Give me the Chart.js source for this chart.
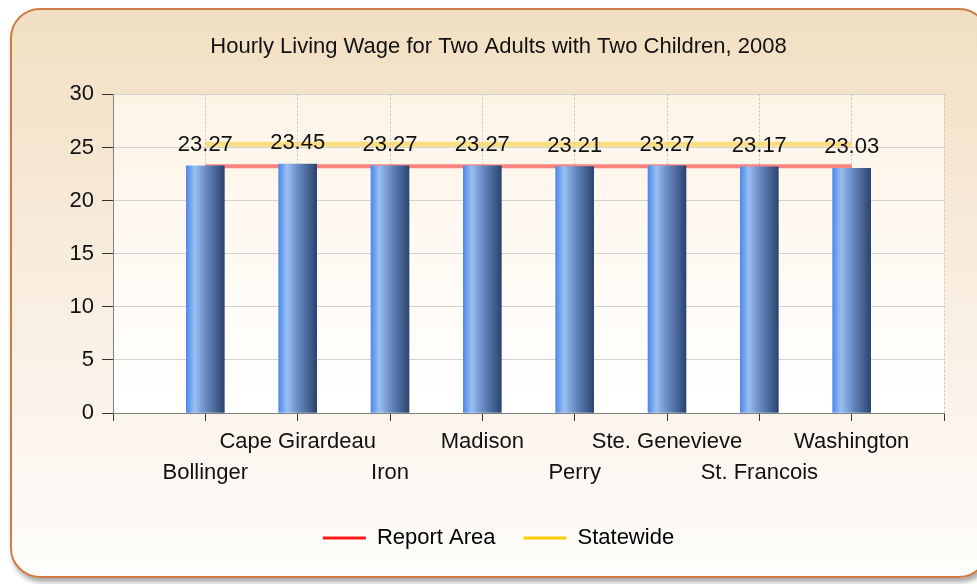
<!DOCTYPE html>
<html>
<head>
<meta charset="utf-8">
<script src="https://cdn.jsdelivr.net/npm/chart.js@4.4.1/dist/chart.umd.min.js"></script>
<style>
  html, body { margin: 0; padding: 0; background: #fff; overflow: hidden; }
  #panel {
    position: absolute; left: 10px; top: 8px; width: 975px; height: 566px;
    border: 2px solid #d07a45; border-radius: 30px;
    background: linear-gradient(#f2dfc2, #f9efe3 55%, #fefdfb);
    box-shadow: 2px 4px 5px rgba(0, 0, 0, 0.35);
  }
  #wrap { position: absolute; left: 0; top: 0; width: 977px; height: 584px; }
</style>
</head>
<body>
<div id="panel"></div>
<div id="wrap"><canvas id="wageChart"></canvas></div>
<script>
const counties = ['Bollinger', 'Cape Girardeau', 'Iron', 'Madison', 'Perry', 'Ste. Genevieve', 'St. Francois', 'Washington'];
const wages = [23.27, 23.45, 23.27, 23.27, 23.21, 23.27, 23.17, 23.03];
const reportArea = [23.24, 23.24, 23.24, 23.24, 23.24, 23.24, 23.24, 23.24];
const statewide = [25.3, 25.3, 25.3, 25.3, 25.3, 25.3, 25.3, 25.3];
const yTicks = [0, 5, 10, 15, 20, 25, 30];

const FONT = "'Liberation Sans', Arial, sans-serif";
const BAR_W = 38;

// place each county at x = 1..8 on a 0..9 axis
const toPoints = arr => arr.map((v, i) => ({ x: i + 1, y: v }));

function barGradient(c) {
  const chart = c.chart;
  if (c.type !== 'data' || !chart.chartArea) return '#5a8fe0';
  const cx = chart.scales.x.getPixelForValue(c.dataIndex + 1);
  const g = chart.ctx.createLinearGradient(cx - BAR_W / 2, 0, cx + BAR_W / 2, 0);
  g.addColorStop(0, '#4f89ea');
  g.addColorStop(0.22, '#98bff3');
  g.addColorStop(0.5, '#6a8dc4');
  g.addColorStop(1, '#2b4470');
  return g;
}

// cream plot background
const plotBg = {
  id: 'plotBg',
  beforeDraw(chart) {
    const { ctx, chartArea: a } = chart;
    const g = ctx.createLinearGradient(0, a.top, 0, a.bottom);
    g.addColorStop(0, '#fdf4e6');
    g.addColorStop(1, '#ffffff');
    ctx.save();
    ctx.fillStyle = g;
    ctx.fillRect(a.left, a.top, a.right - a.left, a.bottom - a.top);
    ctx.restore();
  }
};

// value labels above bars
const barLabels = {
  id: 'barLabels',
  afterDatasetsDraw(chart) {
    const { ctx } = chart;
    const meta = chart.getDatasetMeta(0);
    ctx.save();
    ctx.font = '22px ' + FONT;
    ctx.fillStyle = '#111';
    ctx.textAlign = 'center';
    ctx.textBaseline = 'alphabetic';
    meta.data.forEach((el, i) => {
      ctx.fillText(wages[i].toFixed(2), el.x, el.y - 15);
    });
    ctx.restore();
  }
};

const ctx = document.getElementById('wageChart').getContext('2d');
new Chart(ctx, {
  type: 'bar',
  data: {
    datasets: [{
      type: 'bar',
      label: 'Wage',
      data: toPoints(wages),
      backgroundColor: barGradient,
      borderWidth: 0,
      barThickness: BAR_W,
      order: 0
    }, {
      type: 'line',
      label: 'Report Area',
      data: toPoints(reportArea),
      borderColor: 'rgba(250, 70, 70, 0.65)',
      backgroundColor: '#ff1a1a',
      borderWidth: 4,
      pointRadius: 0,
      order: 1
    }, {
      type: 'line',
      label: 'Statewide',
      data: toPoints(statewide),
      borderColor: 'rgba(250, 205, 60, 0.6)',
      backgroundColor: '#ffcc00',
      borderWidth: 5,
      pointRadius: 0,
      order: 2
    }]
  },
  options: {
    responsive: true,
    maintainAspectRatio: false,
    animation: false,
    layout: { padding: { left: 20, right: 0, top: 0, bottom: 25 } },
    scales: {
      x: {
        type: 'linear',
        min: 0,
        max: 9,
        offset: false,
        afterBuildTicks: s => { s.ticks = [0, 1, 2, 3, 4, 5, 6, 7, 8, 9].map(v => ({ value: v })); },
        afterFit: s => { s.height = 86; },
        grid: {
          offset: false,
          color: '#c4c4c4',
          tickColor: '#333',
          tickLength: 8,
          tickBorderDash: []
        },
        border: { color: '#808080', dash: [2, 2] },
        ticks: {
          autoSkip: false,
          maxRotation: 0,
          padding: 5,
          color: '#111',
          font: { family: FONT, size: 22, lineHeight: 1.41 },
          callback: v => {
            const i = v - 1;
            if (i < 0 || i >= counties.length) return '';
            return i % 2 === 0 ? ['', counties[i]] : [counties[i], ''];
          }
        }
      },
      y: {
        min: 0,
        max: 30,
        afterBuildTicks: s => { s.ticks = yTicks.map(v => ({ value: v })); },
        afterFit: s => { s.width = 93; },
        grid: { color: '#d2d2d2', tickColor: '#333', tickLength: 11 },
        border: { color: '#808080' },
        ticks: {
          padding: 8,
          color: '#111',
          font: { family: FONT, size: 22 }
        }
      },
      yR: {
        position: 'right',
        display: true,
        grid: { display: false, drawTicks: false },
        border: { display: false },
        ticks: { display: false },
        afterFit: s => { s.width = 33; }
      }
    },
    plugins: {
      title: {
        display: true,
        text: 'Hourly Living Wage for Two Adults with Two Children, 2008',
        color: '#111',
        font: { family: FONT, size: 22, weight: 'normal', lineHeight: 1.2 },
        padding: { top: 34, bottom: 34 }
      },
      legend: {
        position: 'bottom',
        labels: {
          boxWidth: 43,
          boxHeight: 3,
          padding: 28,
          color: '#111',
          font: { family: FONT, size: 22 },
          generateLabels: chart => chart.data.datasets.slice(1).map((d, i) => ({
            text: d.label,
            fillStyle: d.backgroundColor,
            strokeStyle: d.backgroundColor,
            lineWidth: 0,
            hidden: false,
            datasetIndex: i + 1
          }))
        }
      },
      tooltip: { enabled: false }
    }
  },
  plugins: [plotBg, barLabels]
});
</script>
</body>
</html>
